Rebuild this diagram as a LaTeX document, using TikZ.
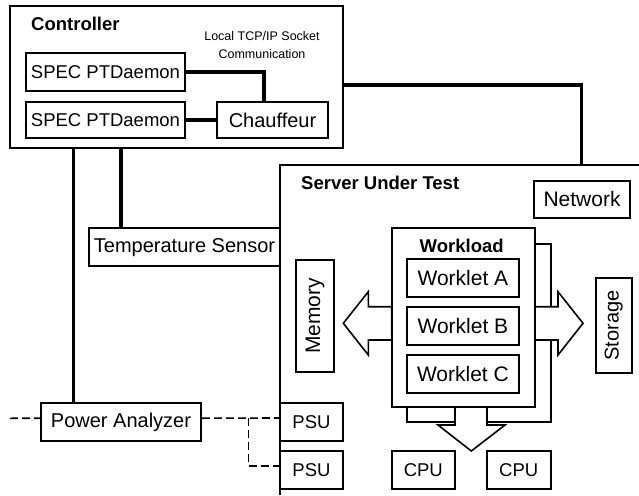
\documentclass[tikz,border=0pt]{standalone}
\usepackage{fontspec}
\setmainfont{Liberation Sans}
\begin{document}
\begin{tikzpicture}[x=1pt,y=-1pt,
    box/.style={draw, line width=1.8pt, inner sep=0pt, font=\fontsize{20}{23}\selectfont},
    big/.style={font=\fontsize{21}{24}\selectfont},
    small/.style={font=\fontsize{18.5}{22}\selectfont},
    link/.style={line width=3.2pt},
    cable/.style={line width=1.6pt, dash pattern=on 8pt off 4pt},
    heading/.style={font=\bfseries\fontsize{18.5}{22}\selectfont, inner sep=0pt}]
  \useasboundingbox (0,0) rectangle (639,495); %Moldura
    %Controller
  \node[box, minimum width=333, minimum height=142] (ctrl) at (176.5,77) {};
  \node[heading, anchor=west] (ctrltitle) at (31,23.7) {Controller};
  \node[align=center, font=\fontsize{12.5}{18}\selectfont, inner sep=0pt] (tcp) at (262,45.5) {Local TCP/IP Socket\\Communication};
  \node[box, small, minimum width=159, minimum height=37.5] (d1) at (105.5,72) {SPEC PTDaemon};
  \node[box, small, minimum width=159, minimum height=36.6] (d2) at (105.5,120) {SPEC PTDaemon};
  \node[box, minimum width=111.6, minimum height=36.6] (chauf) at (272.5,120) {Chauffeur};
  \draw[link] (d1.east) -| ([xshift=-8.5pt]chauf.north); %Socket
  \draw[link] (d2.east) -- (chauf.west);
    %Server Under Test
  \draw[line width=1.6pt] (639,165) -- (280,165) -- (280,495); %Caixa do servidor
  \node[heading, anchor=west] (srvtitle) at (301,183) {Server Under Test};
  \node[box, big, minimum width=96, minimum height=37.3] (net) at (582,199.3) {Network};
  \node[box, big, rotate=90, minimum width=111.7, minimum height=38] (mem) at (315,316) {Memory};
  \node[box, rotate=90, minimum width=95, minimum height=35.7] (stor) at (613.8,325.5) {Storage};
  \node[box, small, minimum width=63, minimum height=38] (psu1) at (311.5,422) {PSU};
  \node[box, small, minimum width=63, minimum height=38] (psu2) at (311.5,470) {PSU};
  \node[box, small, minimum width=63.3, minimum height=38] (cpu1) at (423.3,470) {CPU};
  \node[box, small, minimum width=64, minimum height=38] (cpu2) at (518.7,470) {CPU};
    %Workload e setas
  \draw[line width=1.6pt] (407,244) rectangle (551,422); %Sombra
  \draw[line width=1.6pt, fill=white] (535,306.7) -- (558,306.7) -- (558,291.7) -- (583,323.3) -- (558,355) -- (558,340) -- (535,340) -- cycle; %Seta Storage
  \draw[line width=1.6pt, fill=white] (391.7,306.7) -- (368.3,306.7) -- (368.3,291.7) -- (343.3,323.3) -- (368.3,355) -- (368.3,340) -- (391.7,340) -- cycle; %Seta Memory
  \draw[line width=1.6pt, fill=white] (455,406.7) -- (455,425) -- (438,425) -- (471.3,451) -- (505,425) -- (487,425) -- (487,406.7) -- cycle; %Seta CPU
  \node[box, fill=white, minimum width=143.3, minimum height=178.7] (wl) at (463.3,317.3) {};
  \node[heading] (wltitle) at (461.7,246) {Workload};
  \node[box, big, minimum width=112.3, minimum height=38] (wa) at (462.9,278) {Worklet A};
  \node[box, big, minimum width=112.3, minimum height=38] (wb) at (462.9,326) {Worklet B};
  \node[box, big, minimum width=112.3, minimum height=38] (wc) at (462.9,374) {Worklet C};
    %Medidores
  \node[box, minimum width=191, minimum height=37.7] (temp) at (184.5,247.2) {Temperature Sensor};
  \node[box, minimum width=160, minimum height=37.7] (pa) at (121,422.2) {Power Analyzer};
    %Ligacoes
  \coordinate (pwx) at (73.3,0);
  \coordinate (tsx) at (121,0);
  \coordinate (nic) at (581.7,165);
  \draw[link] (pwx |- ctrl.south) -- (pwx |- pa.north); %Controller - Power Analyzer
  \draw[link] (tsx |- ctrl.south) -- (tsx |- temp.north); %Controller - Temperature Sensor
  \draw[link] ([yshift=-8pt]ctrl.east) -| (nic); %Controller - SUT
    %Cabos de energia
  \coordinate (mains) at (10,418.3);
  \coordinate (split) at (248.3,418.3);
  \draw[cable] (mains) -- ([yshift=4pt]pa.west);
  \draw[cable] ([yshift=4pt]pa.east) -- ([yshift=4pt]psu1.west);
  \draw[cable] (split) |- ([yshift=4pt]psu2.west);
\end{tikzpicture}
\end{document}
